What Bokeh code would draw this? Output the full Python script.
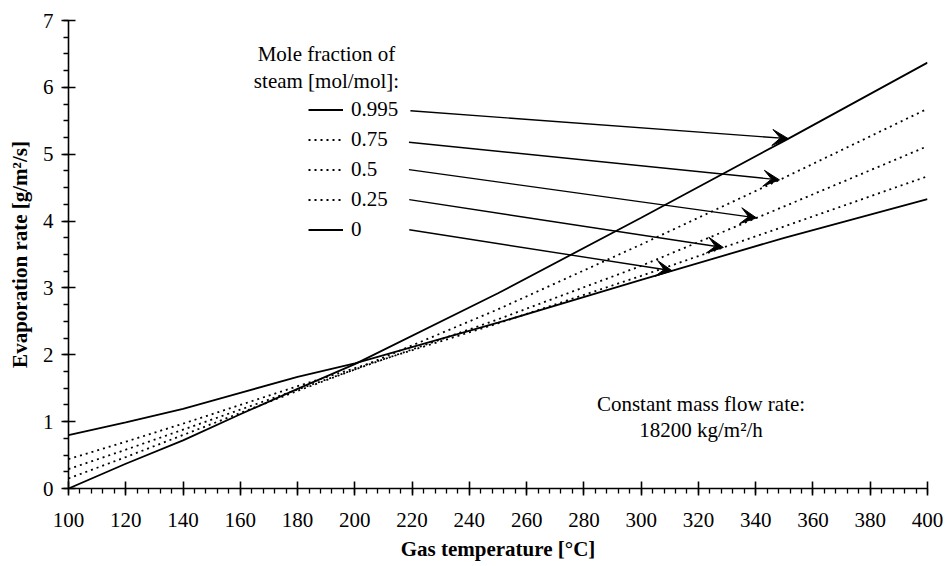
import numpy as np
from bokeh.plotting import figure
from bokeh.models import (Range1d, SingleIntervalTicker, Legend, LegendItem, Label,
                          Arrow, VeeHead, ColumnDataSource)
from bokeh.embed import file_html
from bokeh.resources import INLINE

# ---- data ----
temperature = [100, 120, 140, 160, 180, 200, 250, 300, 350, 400]
rate_0 = [0.80, 0.99, 1.19, 1.43, 1.67, 1.87, 2.48, 3.12, 3.75, 4.33]
rate_025 = [0.44, 0.70, 0.97, 1.25, 1.53, 1.80, 2.47, 3.18, 3.92, 4.67]
rate_05 = [0.29, 0.58, 0.88, 1.18, 1.48, 1.78, 2.53, 3.33, 4.22, 5.12]
rate_075 = [0.15, 0.47, 0.80, 1.13, 1.46, 1.78, 2.68, 3.65, 4.65, 5.68]
rate_0995 = [0.0, 0.37, 0.72, 1.11, 1.49, 1.86, 2.92, 4.05, 5.20, 6.37]

series_labels = ["0.995", "0.75", "0.5", "0.25", "0"]
series_values = [rate_0995, rate_075, rate_05, rate_025, rate_0]
series_dash = ["solid", "2 4", "2 4", "2 4", "solid"]

# temperatures where the annotation arrows touch each curve
arrow_target_t = [351.4, 348.3, 340.3, 328.7, 310.8]
arrow_start_t = [219.4, 218.9, 218.9, 219.0, 219.0]
arrow_start_y = [5.65, 5.18, 4.77, 4.32, 3.87]

FONT = "Liberation Serif"
FS = "21px"

p = figure(width=943, height=566, output_backend="svg", toolbar_location=None,
           x_range=Range1d(100, 400), y_range=Range1d(0, 7),
           min_border_left=68, min_border_right=16, min_border_top=20, min_border_bottom=78)
p.grid.visible = False
p.outline_line_color = None
p.background_fill_color = "white"

renderers = []
for vals, dash in zip(series_values, series_dash):
    r = p.line(temperature, vals, line_color="black", line_width=1.8, line_dash=dash)
    renderers.append(r)

# axes
xa = p.xaxis[0]
ya = p.yaxis[0]
xa.ticker = SingleIntervalTicker(interval=20, num_minor_ticks=5)
ya.ticker = SingleIntervalTicker(interval=1, num_minor_ticks=4)
for ax in (xa, ya):
    ax.axis_line_color = "black"
    ax.axis_line_width = 1.6
    ax.major_tick_line_color = "black"
    ax.major_tick_line_width = 1.6
    ax.minor_tick_line_color = "black"
    ax.minor_tick_line_width = 1.3
    ax.major_tick_in = 7
    ax.major_tick_out = 7
    ax.minor_tick_in = 0
    ax.minor_tick_out = 5
    ax.major_label_text_font = FONT
    ax.major_label_text_font_size = FS
    ax.major_label_text_color = "black"
    ax.axis_label_text_font = FONT
    ax.axis_label_text_font_size = FS
    ax.axis_label_text_font_style = "bold"
    ax.axis_label_text_color = "black"
xa.axis_label = "Gas temperature [°C]"
ya.axis_label = "Evaporation rate [g/m²/s]"
xa.major_label_standoff = 17
xa.axis_label_standoff = 7
ya.major_label_standoff = 8
ya.axis_label_standoff = 8

# legend
items = [LegendItem(label=lab, renderers=[r]) for lab, r in zip(series_labels, renderers)]
legend = Legend(items=items, location=(240, 246), orientation="vertical",
                background_fill_alpha=0, border_line_alpha=0, padding=0, margin=0,
                spacing=5, glyph_width=35, glyph_height=25, label_height=25,
                label_standoff=8, label_text_font=FONT, label_text_font_size=FS,
                label_text_color="black")
p.add_layout(legend)

for txt, yy in (("Mole fraction of", 6.50), ("steam [mol/mol]:", 6.10)):
    p.add_layout(Label(x=190.1, y=yy, text=txt, text_align="center", text_baseline="middle",
                       text_font=FONT, text_font_size=FS, text_color="black"))

for txt, yy in (("Constant mass flow rate:", 1.27), ("18200 kg/m²/h", 0.87)):
    p.add_layout(Label(x=320.9, y=yy, text=txt, text_align="center", text_baseline="middle",
                       text_font=FONT, text_font_size=FS, text_color="black"))

# arrows
xe = list(arrow_target_t)
ye = [float(np.interp(t, temperature, v)) for t, v in zip(arrow_target_t, series_values)]
src = ColumnDataSource(dict(xs=arrow_start_t, ys=arrow_start_y, xe=xe, ye=ye))
p.add_layout(Arrow(x_start="xs", y_start="ys", x_end="xe", y_end="ye", source=src,
                   line_color="black", line_width=1.4,
                   end=VeeHead(size=16, fill_color="black", fill_alpha=1.0,
                               line_color="black", line_width=1)))

open("out.html", "w").write(file_html(p, INLINE))
